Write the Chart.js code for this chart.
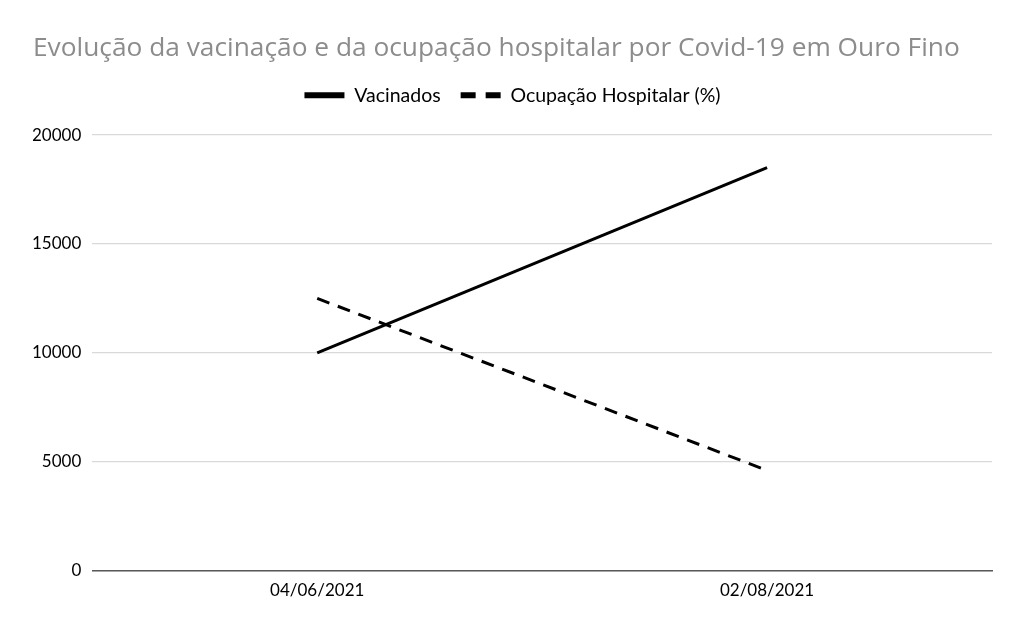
<!DOCTYPE html>
<html>
<head>
<meta charset="utf-8">
<script src="https://cdn.jsdelivr.net/npm/chart.js@4/dist/chart.umd.min.js"></script>
<style>
  html, body { margin: 0; padding: 0; background: #fff; }
  #wrap { width: 1024px; height: 633px; position: relative; }
</style>
</head>
<body>
<div id="wrap"><canvas id="chart"></canvas></div>
<script>
const categories = ["04/06/2021", "02/08/2021"]
const vacinados = [10000, 18500]
const ocupacao = [12500, 4600]
const yTicks = [0, 5000, 10000, 15000, 20000]

const FONT = "Lato"

// extra room between the legend and the plot
const legendGap = {
  id: "legendGap",
  beforeInit(chart) {
    const fit = chart.legend.fit
    chart.legend.fit = function () {
      fit.call(this)
      this.height += 20
    }
  }
}

new Chart(document.getElementById("chart"), {
  type: "line",
  data: {
    labels: categories,
    datasets: [
      {
        label: "Vacinados",
        data: vacinados,
        borderColor: "#000",
        backgroundColor: "#000",
        borderWidth: 3,
        pointRadius: 0,
        tension: 0
      },
      {
        label: "Ocupação Hospitalar (%)",
        data: ocupacao,
        borderColor: "#000",
        backgroundColor: "#000",
        borderWidth: 3,
        borderDash: [13, 9],
        pointRadius: 0,
        tension: 0
      }
    ]
  },
  plugins: [legendGap],
  options: {
    responsive: true,
    maintainAspectRatio: false,
    animation: false,
    layout: { padding: { left: 33, right: 32, top: 33, bottom: 22 } },
    plugins: {
      title: {
        display: true,
        align: "start",
        text: "Evolução da vacinação e da ocupação hospitalar por Covid-19 em Ouro Fino",
        color: "#8c8c8c",
        font: { family: "Open Sans", size: 26.3, weight: "normal" },
        padding: { top: 0, bottom: 1 }
      },
      legend: {
        display: true,
        labels: {
          color: "#000",
          font: { family: FONT, size: 19.5 },
          usePointStyle: true,
          pointStyle: "line",
          pointStyleWidth: 40,
          padding: 20,
          generateLabels(chart) {
            const items = Chart.defaults.plugins.legend.labels.generateLabels(chart)
            items.forEach((it) => {
              it.lineWidth = 6
              it.lineDash = it.datasetIndex === 1 ? [15, 10] : []
            })
            return items
          }
        }
      },
      tooltip: { enabled: false }
    },
    scales: {
      x: {
        offset: true,
        grid: { display: false, drawTicks: false },
        border: { display: true, color: "#595959", width: 1.5 },
        ticks: { color: "#000", font: { family: FONT, size: 17 }, padding: 10 }
      },
      y: {
        min: 0,
        max: 20000,
        afterBuildTicks(axis) { axis.ticks = yTicks.map((v) => ({ value: v })) },
        afterFit(axis) { axis.width -= 12 },
        grid: { color: "#d9d9d9", lineWidth: 1.2, drawTicks: false },
        border: { display: false },
        ticks: {
          color: "#000",
          font: { family: FONT, size: 17 },
          padding: 11,
          callback: (v) => String(v)
        }
      }
    }
  }
})
</script>
</body>
</html>
